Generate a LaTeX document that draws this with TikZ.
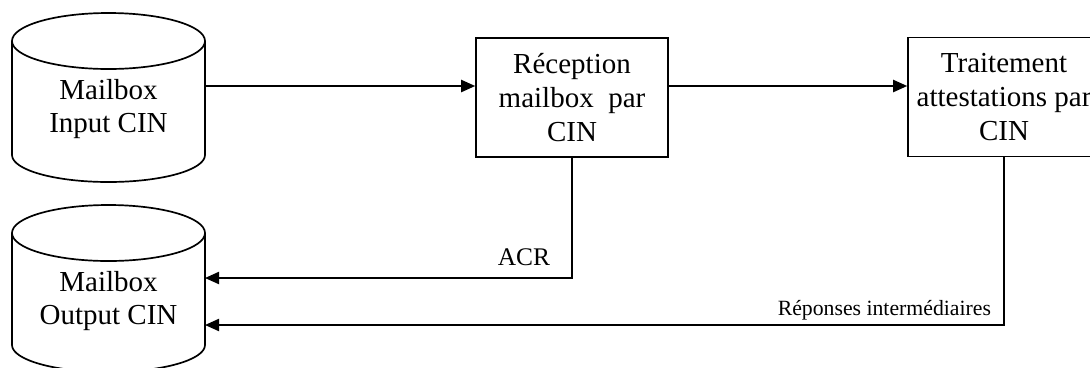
\documentclass[tikz,border=0pt]{standalone}
\usepackage{fontspec}
\setmainfont{Liberation Serif}
\usetikzlibrary{arrows.meta}

\tikzset{
  flow/.style={line width=0.8pt, -{Triangle[length=5.8pt,width=5pt]}},
  proc/.style={draw, line width=0.7pt, minimum width=79.4pt, minimum height=49.2pt,
    align=center, inner sep=1pt, font=\fontsize{12}{14}\selectfont},
  boxtext/.style={align=center, font=\fontsize{12}{14}\selectfont},
  lbl/.style={inner sep=0pt}
}

\begin{document}
\begin{tikzpicture}[x=0.4138pt, y=0.4138pt, line width=0.7pt]
\clip (0,0) rectangle (1090,-367);

% mailboxes
\draw (205,-41) arc[start angle=0, end angle=360, x radius=96.5, y radius=28]
      (12,-41) -- (12,-155) arc[start angle=180, end angle=360, x radius=96.5, y radius=27] -- (205,-41);
\node[boxtext] (ib) at (108.5,-109) {Mailbox\\Input CIN};

\draw (205,-233) arc[start angle=0, end angle=360, x radius=96.5, y radius=28]
      (12,-233) -- (12,-345) arc[start angle=180, end angle=360, x radius=96.5, y radius=27] -- (205,-233);
\node[boxtext] (ob) at (108.5,-301) {Mailbox\\Output CIN};

\coordinate (ibout) at (205,-86);
\coordinate (acrin) at (205,-278);
\coordinate (repin) at (205,-325);

% processes
\node[proc] (rec) at (572,-97.5) {Réception\\mailbox~ par\\CIN};
\node[proc] (trt) at (1004,-97) {Traitement\\attestations par\\CIN};

\draw[flow] (ibout) -- (rec.west |- ibout);
\draw[flow] (rec.east |- ibout) -- (trt.west |- ibout);
\draw[flow] (rec.south) |- node[lbl, anchor=base east, xshift=-8.7pt, yshift=5pt,
  font=\fontsize{10.5}{12}\selectfont] {ACR} (acrin);
\draw[flow] (trt.south) |- node[lbl, anchor=base east, xshift=-5pt, yshift=4.1pt,
  font=\fontsize{9}{11}\selectfont] {Réponses intermédiaires} (repin);
\end{tikzpicture}
\end{document}
